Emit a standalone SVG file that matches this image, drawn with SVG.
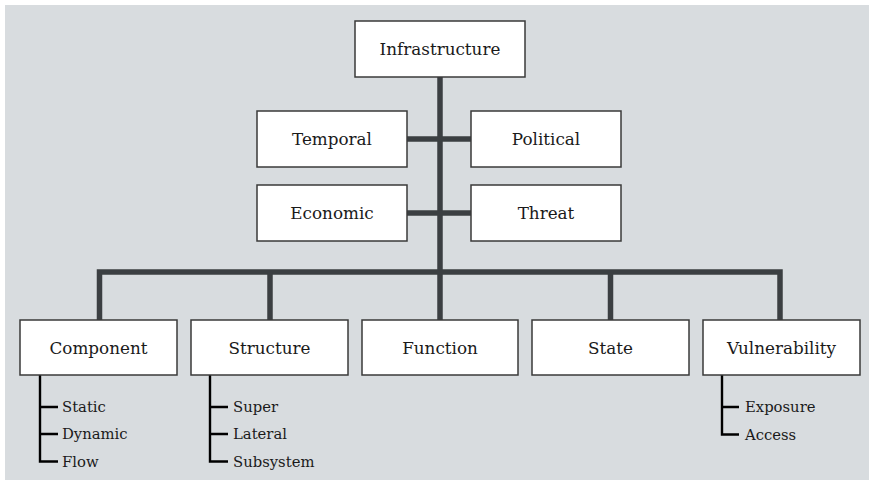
<svg xmlns="http://www.w3.org/2000/svg" width="869" height="480" viewBox="0 0 869 480">
<style>
.box{fill:#ffffff;stroke:#3a3a3a;stroke-width:1.5}
.lbl{font-family:"DejaVu Serif","Liberation Serif",serif;font-size:16.8px;fill:#1a1a1a;text-anchor:middle}
.sub{font-family:"DejaVu Serif","Liberation Serif",serif;font-size:14.8px;fill:#1a1a1a}
.trunk{fill:none;stroke:#3b3f42;stroke-width:5.5;stroke-linejoin:miter}
.br{fill:none;stroke:#000000;stroke-width:2.4;stroke-linejoin:miter}
</style>
<rect x="5" y="5" width="864" height="475" fill="#d8dcdf"/>
<g id="connectors">
<path class="trunk" d="M440 77 V320"/>
<path class="trunk" d="M407 139 H471 M407 213 H471"/>
<path class="trunk" d="M99.5 320 V272 H780 V320"/>
<path class="trunk" d="M270 272 V320 M610.5 272 V320"/>
<path class="br" d="M40 375 V461.5 H58 M40 407 H58 M40 434 H58"/>
<path class="br" d="M210 375 V461.5 H228 M210 407 H228 M210 434 H228"/>
<path class="br" d="M722 375 V434.5 H739 M722 407 H739"/>
</g>
<g id="infrastructure"><rect class="box" x="355" y="21" width="170" height="56"/><text class="lbl" x="440" y="55">Infrastructure</text></g>
<g id="temporal"><rect class="box" x="257" y="111" width="150" height="56"/><text class="lbl" x="332" y="145">Temporal</text></g>
<g id="political"><rect class="box" x="471" y="111" width="150" height="56"/><text class="lbl" x="546" y="145">Political</text></g>
<g id="economic"><rect class="box" x="257" y="185" width="150" height="56"/><text class="lbl" x="332" y="219">Economic</text></g>
<g id="threat"><rect class="box" x="471" y="185" width="150" height="56"/><text class="lbl" x="546" y="219">Threat</text></g>
<g id="component"><rect class="box" x="20" y="320" width="157" height="55"/><text class="lbl" x="98.5" y="354">Component</text>
<text class="sub" x="62" y="412">Static</text><text class="sub" x="62" y="439">Dynamic</text><text class="sub" x="62" y="466.5">Flow</text></g>
<g id="structure"><rect class="box" x="191" y="320" width="157" height="55"/><text class="lbl" x="269.5" y="354">Structure</text>
<text class="sub" x="233" y="412">Super</text><text class="sub" x="233" y="439">Lateral</text><text class="sub" x="233" y="466.5">Subsystem</text></g>
<g id="function"><rect class="box" x="362" y="320" width="156" height="55"/><text class="lbl" x="440" y="354">Function</text></g>
<g id="state"><rect class="box" x="532" y="320" width="157" height="55"/><text class="lbl" x="610.5" y="354">State</text></g>
<g id="vulnerability"><rect class="box" x="703" y="320" width="157" height="55"/><text class="lbl" x="781.5" y="354">Vulnerability</text>
<text class="sub" x="745" y="412">Exposure</text><text class="sub" x="745" y="439.5">Access</text></g>
</svg>
